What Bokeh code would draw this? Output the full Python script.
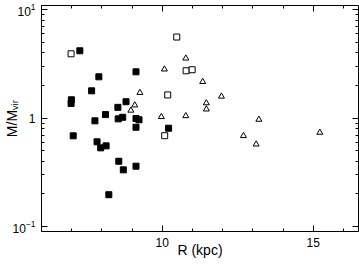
import math
from bokeh.plotting import figure
from bokeh.models import (FixedTicker, LinearAxis, LogAxis, Range1d,
                          CustomJSTickFormatter, LogTickFormatter)
from bokeh.embed import file_html
from bokeh.resources import INLINE

# ---- data ----
filled_R = [7.27, 7.90, 7.66, 6.99, 6.98, 8.12, 7.77, 9.13, 8.80, 8.53, 8.69, 8.54,
            9.13, 9.23, 9.13, 10.21, 7.05, 7.84, 7.96, 8.14, 8.56, 8.71, 9.13, 8.23]
filled_M = [4.19, 2.41, 1.79, 1.48, 1.37, 1.08, 0.946, 2.68, 1.42, 1.26, 1.02, 0.987,
            0.994, 0.967, 0.826, 0.809, 0.688, 0.606, 0.533, 0.556, 0.401, 0.334, 0.361, 0.197]

open_R = [6.98, 10.48, 10.79, 10.99, 10.18, 10.08]
open_M = [3.93, 5.61, 2.74, 2.80, 1.64, 0.690]

tri_R = [10.07, 10.78, 11.34, 9.26, 9.09, 8.96, 9.97, 10.78, 11.96, 11.46, 11.46,
         13.20, 12.69, 13.11, 15.22]
tri_M = [2.83, 3.57, 2.17, 1.72, 1.32, 1.18, 1.03, 1.05, 1.59, 1.38, 1.21,
         0.973, 0.688, 0.575, 0.738]

x_major = [5, 10, 15, 20]
x_minor = list(range(6, 17))
y_major = [0.1, 1, 10]
y_minor = [0.2, 0.3, 0.4, 0.5, 0.6, 0.7, 0.8, 0.9, 2, 3, 4, 5, 6, 7, 8, 9]

x_lo, x_hi = 6.0, 16.5
y_lo, y_hi = 10 ** -1.045, 10 ** 1.04

x_title = "R (kpc)"
y_title = "M/M\u1d65\u1d62\u1d63"

FONT = "Liberation Sans"

p = figure(width=359, height=264, output_backend="svg", toolbar_location=None,
           x_range=Range1d(x_lo, x_hi), y_range=Range1d(y_lo, y_hi),
           y_axis_type="log", min_border_left=39, min_border_right=1,
           min_border_top=5, min_border_bottom=33)
p.background_fill_color = "white"
p.border_fill_color = "white"
p.outline_line_color = "black"
p.outline_line_width = 1
p.xgrid.visible = False
p.ygrid.visible = False

xt = FixedTicker(ticks=x_major, minor_ticks=x_minor)
yt = FixedTicker(ticks=y_major, minor_ticks=y_minor)

def style(ax, labels=True):
    ax.axis_line_color = None
    ax.major_tick_in = 6
    ax.major_tick_out = 0
    ax.minor_tick_in = 3
    ax.minor_tick_out = 0
    ax.major_tick_line_color = "black"
    ax.minor_tick_line_color = "black"
    if labels:
        ax.major_label_text_font = FONT
        ax.major_label_text_font_size = "12px"
        ax.major_label_text_color = "black"
        ax.major_label_standoff = 6
        ax.axis_label_text_font = FONT
        ax.axis_label_text_font_size = "14px"
        ax.axis_label_text_font_style = "normal"
        ax.axis_label_text_color = "black"
    else:
        ax.major_label_text_font_size = "0px"
        ax.major_label_standoff = 0

xa = p.xaxis[0]
xa.ticker = xt
style(xa)
xa.axis_label = x_title
xa.axis_label_standoff = -8

ya = p.yaxis[0]
ya.ticker = yt
ya.formatter = LogTickFormatter()
ya.major_label_overrides = {1: "1"}
style(ya)
ya.axis_label = y_title
ya.axis_label_standoff = -10

top = LinearAxis(ticker=xt, formatter=CustomJSTickFormatter(code="return ''"))
style(top, labels=False)
p.add_layout(top, "above")
right = LogAxis(ticker=yt, formatter=CustomJSTickFormatter(code="return ''"))
style(right, labels=False)
p.add_layout(right, "right")

p.scatter(filled_R, filled_M, marker="square", size=6, fill_color="black",
          line_color="black", line_width=1)
p.scatter(open_R, open_M, marker="square", size=6, fill_color="white",
          line_color="black", line_width=1)
p.scatter(tri_R, tri_M, marker="triangle", size=6, fill_color="white",
          line_color="black", line_width=1)

open("out.html", "w").write(file_html(p, INLINE))
